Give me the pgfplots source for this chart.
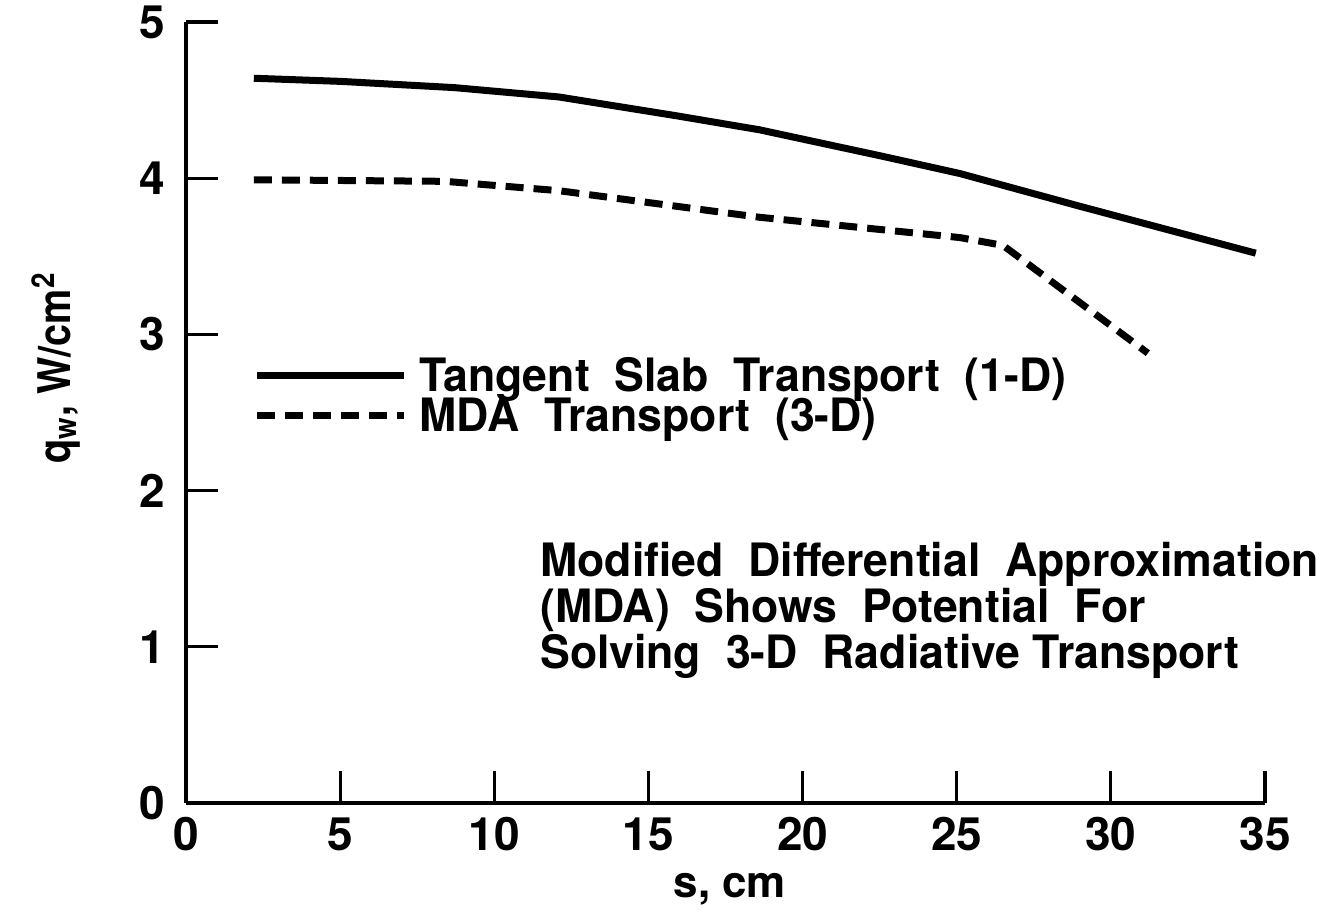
\documentclass[border=0pt]{standalone}
\usepackage{fontspec}
\setmainfont{TeX Gyre Heros}
\newfontfamily\condfont{TeX Gyre Heros}[FakeStretch=0.97]
\newfontfamily\narrowfont{TeX Gyre Heros}[FakeStretch=0.88]
\usepackage{pgfplots}
\pgfplotsset{compat=1.18}

\begin{document}
\begin{tikzpicture}
  \begin{axis}[
      scale only axis,
      width=539.5pt,
      height=390.5pt,
      xmin=0, xmax=35,
      ymin=0, ymax=5,
      clip=false,
      axis x line*=bottom,
      axis y line*=left,
      axis line style={line width=1.8pt, -},
      xtick={0,5,...,35},
      ytick={0,1,...,5},
      tick align=inside,
      major tick length=16pt,
      tick style={line width=1.6pt, black},
      /pgf/number format/assume math mode=true,
      tick label style={font=\bfseries\fontsize{23}{23}\selectfont, inner sep=0pt},
      xticklabel style={yshift=-7pt},
      yticklabel style={xshift=-10.5pt},
      xlabel={s, cm},
      ylabel={q\textsubscript{w}, W/cm\textsuperscript{2}},
      xlabel style={font=\bfseries\fontsize{22}{22}\selectfont, inner sep=0pt,
        at={(axis description cs:0.504,-0.1204)}, anchor=base},
      ylabel style={font=\narrowfont\bfseries\fontsize{22.5}{22.5}\selectfont, inner sep=0pt,
        at={(axis description cs:-0.1075,0.557)}, anchor=base, rotate=0},
      legend image code/.code={\draw[#1] (0pt,0pt) -- (73.5pt,0pt);},
      legend style={at={(axis cs:2.17,2.606)}, anchor=west, draw=none, fill=none,
        inner sep=0pt, row sep=4pt,
        font=\condfont\bfseries\fontsize{23}{23}\selectfont,
        nodes={inner sep=0pt, text height=16pt, text depth=0pt},
        /tikz/every odd column/.style={column sep=6pt}},
      legend cell align=left,
    ]
    % tangent slab (1-D)
    \addplot[black, line width=3.5pt, line join=round] coordinates {
      (2.2,4.64) (5,4.62) (8.7,4.58) (12.1,4.52) (15.9,4.40) (18.6,4.31)
      (22.6,4.14) (25.1,4.03) (29,3.82) (34.7,3.52)
    };
    % MDA (3-D)
    \addplot[black, line width=3.5pt, dash pattern=on 9pt off 5pt] coordinates {
      (2.2,3.99) (8.4,3.98) (12.1,3.92) (18.6,3.75) (22.6,3.67) (25.1,3.62)
      (26.5,3.57) (31.2,2.88)
    };
    \legend{Tangent\ \ Slab\ \ Transport\ \ (1-D), MDA\ \ Transport\ \ (3-D)}
    \node[anchor=base west, inner sep=0pt, align=left,
      font=\condfont\bfseries\fontsize{23}{21.5}\selectfont]
      at (axis cs:11.48,0.864)
      {Modified\ \ Differential\ \ Approximation\\
       (MDA)\ \ Shows\ \ Potential\ \ For\\
       Solving\ \ 3-D\ \ Radiative Transport};
  \end{axis}
  \pgfresetboundingbox
  \path (-93pt,-54pt) rectangle (575.5pt,401.5pt);
\end{tikzpicture}
\end{document}
